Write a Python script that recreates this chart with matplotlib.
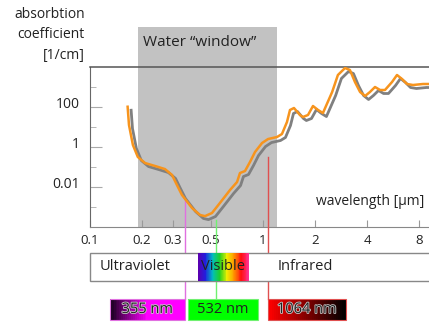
import numpy as np
import matplotlib
matplotlib.use("Agg")
import matplotlib.pyplot as plt
from matplotlib import transforms
from matplotlib.colors import LinearSegmentedColormap
import matplotlib.patheffects as pe
from matplotlib.patches import Rectangle

plt.rcParams['font.family'] = ['Open Sans', 'DejaVu Sans']

# absorption spectrum of water
wavelength = [0.165, 0.168, 0.177, 0.189, 0.208, 0.238, 0.271, 0.298, 0.318, 0.340,
              0.389, 0.432, 0.462, 0.507, 0.564, 0.645, 0.708, 0.736, 0.787, 0.841,
              0.899, 0.987, 1.069, 1.205, 1.287, 1.376, 1.432, 1.51, 1.636, 1.70,
              1.82, 1.945, 2.08, 2.22, 2.51, 2.71, 2.98, 3.18, 3.40, 3.64,
              3.89, 4.15, 4.44, 4.75, 5.07, 5.57, 5.95, 6.36, 6.80, 7.36,
              8.41, 8.99]
absorption = [103, 12.6, 1.26, 0.316, 0.158, 0.112, 0.079, 0.040, 0.0126, 0.004,
              8.9e-4, 4e-4, 3.5e-4, 5e-4, 1.6e-3, 7.1e-3, 0.0178, 0.05, 0.063, 0.178,
              0.56, 1.58, 2.5, 3.16, 4.47, 17.8, 70.8, 89, 39.8, 31.6,
              39.8, 112, 70.8, 50, 562, 3981, 8913, 7079, 1778, 562,
              355, 562, 1000, 708, 708, 1778, 3981, 2512, 1413, 1259,
              1413, 1413]

window = [0.19, 1.2]          # water "window" in um
xticks = [0.1, 0.2, 0.3, 0.5, 1, 2, 4, 8]
xticklabels = ["0.1", "0.2", "0.3", "0.5", "1", "2", "4", "8"]
ymajor = [1e-2, 1, 1e2]
yminor = [1e-3, 1e-1, 1e1, 1e3]
ylabels = ["0.01", "1", "100"]

laser_nm = [355, 532, 1064]
laser_top = [2.8e-3, 2.2e-4, 0.316]     # where the marker line stops on the plot
laser_line = ['#e070e0', '#70f070', '#e05050']
laser_box = [(0.13, 0.355), (0.37, 0.93), (1.064, 3.02)]

W, H = 429, 322
fig = plt.figure(figsize=(W / 100, H / 100), dpi=100)

def fx(px):
    return px / W

def fy(py):
    return 1 - py / H

ax = fig.add_axes([fx(90), fy(227), fx(339), 160 / H])
ax.set_xscale('log')
ax.set_yscale('log')
ax.set_xlim(0.1, 9.11)
ax.set_ylim(1e-4, 1e4)

ax.axvspan(window[0], window[1], ymin=0, ymax=200 / 160, clip_on=False,
           color='#c2c2c2', lw=0, zorder=0)

shadow = transforms.offset_copy(ax.transData, fig=fig, x=3.5, y=-3.5, units='dots')
ax.plot(wavelength, absorption, color='#808080', lw=2.0, transform=shadow,
        solid_joinstyle='round', zorder=3)
ax.plot(wavelength, absorption, color='#f7941d', lw=1.8,
        solid_joinstyle='round', zorder=4)

for nm, top, c in zip(laser_nm, laser_top, laser_line):
    ax.plot([nm / 1000, nm / 1000], [1e-4, top], color=c, lw=1, zorder=2)

ax.spines['right'].set_visible(False)
ax.spines['top'].set_color('#555555')
ax.spines['left'].set_color('#666666')
ax.spines['bottom'].set_color('#888888')
ax.spines['top'].set_linewidth(1.1)

ax.set_xticks(xticks)
ax.set_xticklabels(xticklabels)
ax.xaxis.set_minor_locator(matplotlib.ticker.NullLocator())
ax.tick_params(axis='x', direction='in', length=5, color='#999999', pad=5,
               labelsize=9.5, labelcolor='#222222')
ax.set_yticks(ymajor)
ax.set_yticklabels(ylabels)
ax.set_yticks(yminor, minor=True)
ax.yaxis.set_minor_formatter(matplotlib.ticker.NullFormatter())
ax.tick_params(axis='y', which='major', direction='in', length=8.5, color='#aaaaaa',
               pad=7, labelsize=10, labelcolor='#222222')
ax.tick_params(axis='y', which='minor', direction='in', length=4, color='#aaaaaa')
for lab in ax.get_yticklabels():
    lab.set_transform(lab.get_transform() + transforms.ScaledTranslation(0, 5 / 100, fig.dpi_scale_trans))

fig.text(fx(85), fy(15), "absorbtion", ha='right', va='center', fontsize=10, color='#222222')
fig.text(fx(85), fy(35), "coefficient", ha='right', va='center', fontsize=10, color='#222222')
fig.text(fx(85), fy(55), "[1/cm]", ha='right', va='center', fontsize=10, color='#222222')
fig.text(fx(143), fy(42), "Water \u201cwindow\u201d", ha='left', va='center', fontsize=11,
         color='#222222')
ax.text(0.985, 0.16, "wavelength [\u00b5m]", transform=ax.transAxes, ha='right',
        va='center', fontsize=10, color='#222222')

# lower panel: spectral bands and laser lines
ax2 = fig.add_axes([fx(90), 0, fx(339), 95 / H], sharex=ax)
ax2.set_ylim(322, 227)
ax2.axis('off')

band_tr = transforms.blended_transform_factory(ax2.transAxes, ax2.transData)
ax2.add_patch(Rectangle((0, 253), 1.02, 28, transform=band_tr, facecolor='white',
                        edgecolor='#888888', lw=1, zorder=1, clip_on=False))
spec = LinearSegmentedColormap.from_list('spec', ['#5a00b0', '#2020e0', '#00c0c0', '#20d020',
                                                  '#f0f000', '#ff9000', '#ff1010', '#ff3090'])
xe = np.geomspace(0.42, 0.83, 60)
ax2.pcolormesh(xe, [253, 281], np.linspace(0, 1, 59)[None, :], cmap=spec, zorder=2)
ax2.text(0.113, 267, "Ultraviolet", ha='left', va='center', fontsize=10.5, color='#222222', zorder=3)
ax2.text(0.59, 267, "Visible", ha='center', va='center', fontsize=10.5, color='#222222', zorder=3)
ax2.text(1.22, 267, "Infrared", ha='left', va='center', fontsize=10.5, color='#222222', zorder=3)

box_maps = [['#1a0020', '#ff00ff', '#ff00ff'], ['#00ff00', '#00ff00'], ['#ff0000', '#000000']]
for nm, c, (a, b), cm in zip(laser_nm, laser_line, laser_box, box_maps):
    ax2.plot([nm / 1000, nm / 1000], [227, 299], color=c, lw=1, zorder=0)
    xe = np.geomspace(a, b, 40)
    ax2.pcolormesh(xe, [299, 320], np.linspace(0, 1, 39)[None, :],
                   cmap=LinearSegmentedColormap.from_list('b', cm), zorder=2)
    ax2.add_patch(Rectangle((a, 299), b - a, 21, facecolor='none', edgecolor=c,
                            lw=0.8, zorder=2.5, clip_on=False))
    t = ax2.text(np.sqrt(a * b), 309.5, f"{nm} nm", ha='center', va='center', fontsize=10.5,
                 color='#222222', zorder=3)
    if nm != 532:
        t.set_path_effects([pe.withStroke(linewidth=1.2, foreground='#c8c8c8')])

fig.savefig("out.png", dpi=100)
